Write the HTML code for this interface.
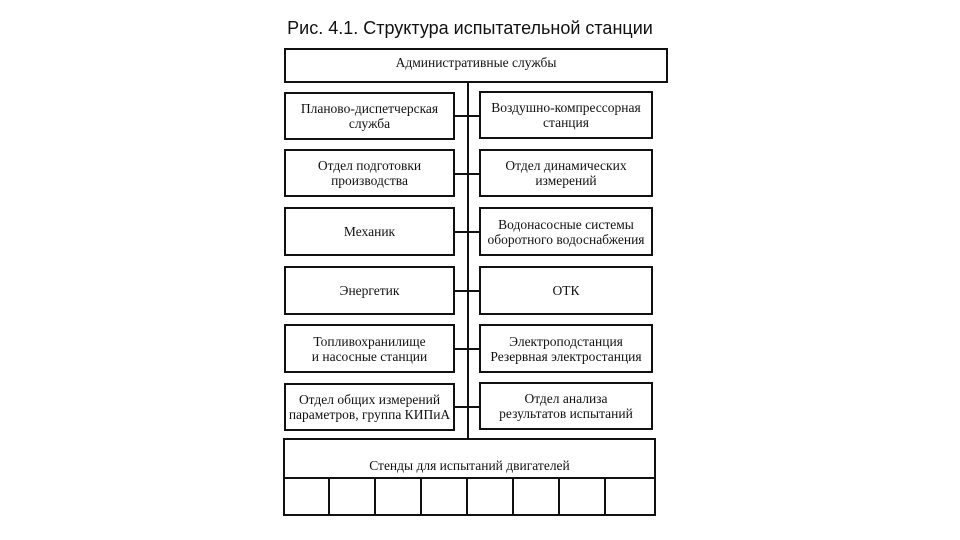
<!DOCTYPE html>
<html><head><meta charset="utf-8"><style>
body{margin:0;width:960px;height:540px;background:#fff;position:relative;overflow:hidden;font-family:"Liberation Serif","Noto Serif CJK SC",serif;}
.t{position:absolute;left:-10px;width:960px;top:18px;text-align:center;font-family:"Liberation Sans",sans-serif;font-size:18px;color:#111;}
.b{position:absolute;border:2px solid #111;box-sizing:border-box;display:flex;align-items:center;justify-content:center;text-align:center;font-size:13.5px;line-height:15px;color:#111;background:#fff;}
.l{position:absolute;background:#111;}
</style></head><body>
<div class="t">Рис. 4.1. Структура испытательной станции</div>
<div class="l" style="left:467px;top:82px;width:2px;height:357px"></div>
<div class="b" style="left:284px;top:48px;width:384px;height:35px;padding-bottom:6px">Административные службы</div>

<div class="l" style="left:454px;top:115px;width:26px;height:2px"></div>
<div class="l" style="left:454px;top:173px;width:26px;height:2px"></div>
<div class="l" style="left:454px;top:231px;width:26px;height:2px"></div>
<div class="l" style="left:454px;top:290px;width:26px;height:2px"></div>
<div class="l" style="left:454px;top:348px;width:26px;height:2px"></div>
<div class="l" style="left:454px;top:406px;width:26px;height:2px"></div>

<div class="b" style="left:284px;top:92px;width:171px;height:48px">Планово-диспетчерская<br>служба</div>
<div class="b" style="left:479px;top:91px;width:174px;height:48px">Воздушно-компрессорная<br>станция</div>
<div class="b" style="left:284px;top:149px;width:171px;height:48px">Отдел подготовки<br>производства</div>
<div class="b" style="left:479px;top:149px;width:174px;height:48px">Отдел динамических<br>измерений</div>
<div class="b" style="left:284px;top:207px;width:171px;height:49px">Механик</div>
<div class="b" style="left:479px;top:207px;width:174px;height:49px">Водонасосные системы<br>оборотного водоснабжения</div>
<div class="b" style="left:284px;top:266px;width:171px;height:49px">Энергетик</div>
<div class="b" style="left:479px;top:266px;width:174px;height:49px">ОТК</div>
<div class="b" style="left:284px;top:324px;width:171px;height:49px">Топливохранилище<br>и насосные станции</div>
<div class="b" style="left:479px;top:324px;width:174px;height:49px">Электроподстанция<br>Резервная электростанция</div>
<div class="b" style="left:284px;top:383px;width:171px;height:48px">Отдел общих измерений<br>параметров, группа КИПиА</div>
<div class="b" style="left:479px;top:382px;width:174px;height:48px">Отдел анализа<br>результатов испытаний</div>

<div class="b" style="left:283px;top:438px;width:373px;height:78px;align-items:flex-start;padding-top:18px">Стенды для испытаний двигателей</div>
<div class="l" style="left:283px;top:477px;width:373px;height:2px"></div>
<div class="l" style="left:328px;top:477px;width:2px;height:38px"></div>
<div class="l" style="left:374px;top:477px;width:2px;height:38px"></div>
<div class="l" style="left:420px;top:477px;width:2px;height:38px"></div>
<div class="l" style="left:466px;top:477px;width:2px;height:38px"></div>
<div class="l" style="left:512px;top:477px;width:2px;height:38px"></div>
<div class="l" style="left:558px;top:477px;width:2px;height:38px"></div>
<div class="l" style="left:604px;top:477px;width:2px;height:38px"></div>
</body></html>
